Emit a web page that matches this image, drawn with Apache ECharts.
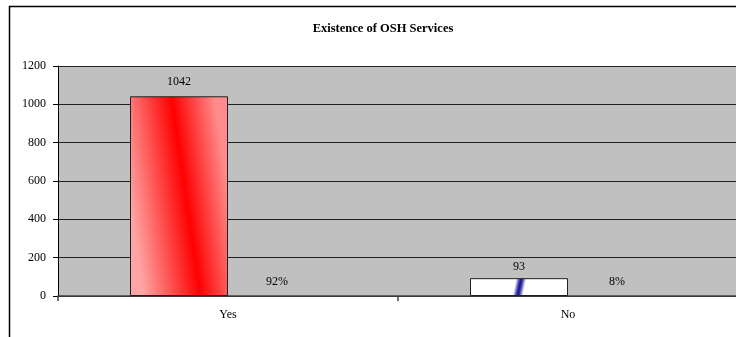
<!DOCTYPE html>
<html>
<head>
<meta charset="utf-8">
<script src="https://cdn.jsdelivr.net/npm/echarts@6/dist/echarts.min.js"></script>
<style>
  html, body { margin: 0; padding: 0; background: #ffffff; overflow: hidden; }
  /* the plot runs a little past the right edge of the window */
  #chart { width: 740px; height: 337px; }
</style>
</head>
<body>
<div id="chart"></div>
<script>
// Survey answers: does the workplace have OSH services?
const categories = ['Yes', 'No'];
const counts = [1042, 93];
const shares = [0.92, 0.08];
const yTicks = [0, 200, 400, 600, 800, 1000, 1200];

const serif = '"Liberation Serif", "DejaVu Serif", serif';

// Red bar: light edges with a slightly slanted bright red core
const redFill = new echarts.graphic.LinearGradient(0, 0.536, 1, 0.464, [
  { offset: 0, color: '#ffa4a4' },
  { offset: 0.57, color: '#ff0000' },
  { offset: 1, color: '#ff8c8c' }
]);
// White bar with a thin slanted navy streak
const whiteFill = new echarts.graphic.LinearGradient(0, -0.07, 1, 1.07, [
  { offset: 0, color: '#ffffff' },
  { offset: 0.455, color: '#ffffff' },
  { offset: 0.49, color: '#3a3aa8' },
  { offset: 0.505, color: '#14148a' },
  { offset: 0.52, color: '#3a3aa8' },
  { offset: 0.555, color: '#ffffff' },
  { offset: 1, color: '#ffffff' }
]);
const fills = [redFill, whiteFill];
const countLabelGap = [8, 5];

const chart = echarts.init(document.getElementById('chart'), null, { renderer: 'canvas' });

chart.setOption({
  animation: false,
  backgroundColor: '#ffffff',
  title: {
    text: 'Existence of OSH Services',
    left: 378,
    top: 17,
    textAlign: 'center',
    textStyle: { fontFamily: serif, fontSize: 12.5, fontWeight: 'bold', color: '#000000' }
  },
  graphic: [{
    type: 'rect',
    silent: true,
    z: 100,
    shape: { x: 9.5, y: 6.5, width: 760, height: 360 },
    style: { fill: 'none', stroke: '#000000', lineWidth: 1.5 }
  }],
  grid: {
    left: 58,
    top: 66,
    right: 2,
    bottom: 41,
    show: true,
    backgroundColor: '#c0c0c0',
    borderWidth: 0
  },
  xAxis: {
    type: 'category',
    data: categories,
    boundaryGap: true,
    axisLine: { lineStyle: { color: '#404040', width: 1.5 } },
    axisTick: { show: true, length: 5, inside: false, lineStyle: { color: '#404040', width: 1.5 } },
    axisLabel: { margin: 13, fontFamily: serif, fontSize: 12, color: '#000000' },
    splitLine: { show: false }
  },
  yAxis: {
    type: 'value',
    min: yTicks[0],
    max: yTicks[yTicks.length - 1],
    interval: yTicks[1] - yTicks[0],
    axisLine: { show: true, lineStyle: { color: '#000000', width: 1 } },
    axisTick: { show: true, length: 5, inside: false, lineStyle: { color: '#000000' } },
    axisLabel: { margin: 12, fontFamily: serif, fontSize: 12, color: '#000000', formatter: v => String(v) },
    splitLine: { show: true, lineStyle: { color: '#202020', width: 1 } }
  },
  series: [
    {
      name: 'Count',
      type: 'bar',
      barWidth: 98,
      barGap: '0%',
      data: counts.map((v, i) => ({
        value: v,
        itemStyle: { color: fills[i], borderColor: '#202020', borderWidth: 1 },
        label: { distance: countLabelGap[i] }
      })),
      label: {
        show: true,
        position: 'top',
        fontFamily: serif,
        fontSize: 12,
        color: '#000000'
      }
    },
    {
      name: 'Share',
      type: 'bar',
      barWidth: 98,
      barGap: '0%',
      data: shares,
      itemStyle: { color: 'rgba(0,0,0,0)' },
      label: {
        show: true,
        position: 'top',
        distance: 8,
        fontFamily: serif,
        fontSize: 12,
        color: '#000000',
        formatter: p => Math.round(p.value * 100) + '%'
      }
    }
  ]
});
</script>
</body>
</html>
